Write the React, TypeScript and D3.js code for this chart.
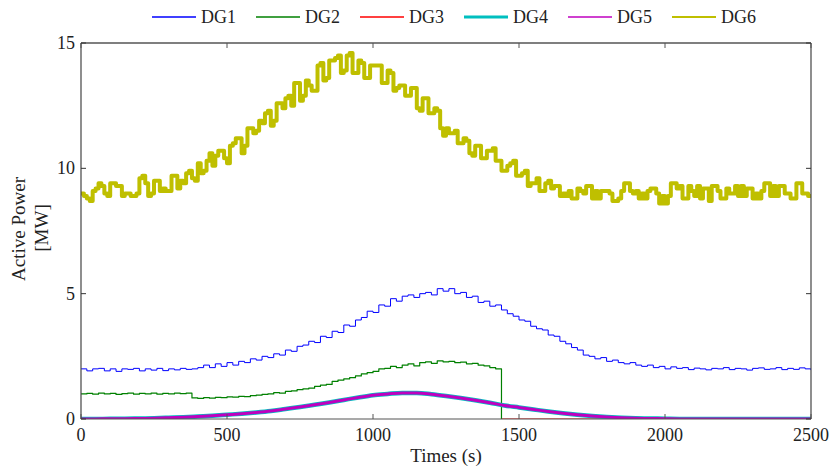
import React from "react";
import * as d3 from "d3";

// ---- Data ----
const seriesNames = ["DG1", "DG2", "DG3", "DG4", "DG5", "DG6"];
const seriesColors = ["#0000ff", "#008000", "#ff0000", "#00bfbf", "#bf00bf", "#bfbf00"];
const xTicks = [0, 500, 1000, 1500, 2000, 2500];
const yTicks = [0, 5, 10, 15];

// step-sampled series, every 20 s from 0 to 2500
const stepTimes = d3.range(0, 2501, 20);

const dg1 = [
  2.0, 1.92, 2.0, 2.02, 1.92, 2.0, 1.9, 2.0, 1.98, 2.02, 1.92, 2.0, 1.95, 2.02, 1.93, 2.0, 1.96, 2.02, 1.98, 2.0,
  2.05, 2.15, 2.05, 2.2, 2.1, 2.25, 2.15, 2.3, 2.25, 2.4, 2.35, 2.5, 2.45, 2.6, 2.55, 2.75, 2.7, 2.9, 2.95, 3.1,
  3.05, 3.3, 3.25, 3.5, 3.45, 3.75, 3.7, 3.95, 4.05, 4.3, 4.25, 4.55, 4.5, 4.8, 4.7, 4.9, 4.95, 4.85, 5.0, 5.05,
  4.95, 5.2, 5.1, 5.2, 5.0, 5.05, 4.85, 4.9, 4.65, 4.7, 4.5, 4.55, 4.35, 4.2, 4.1, 3.95, 3.9, 3.7, 3.6, 3.55,
  3.35, 3.3, 3.1, 3.0, 2.85, 2.75, 2.55, 2.5, 2.4, 2.45, 2.3, 2.35, 2.25, 2.2, 2.25, 2.15, 2.1, 2.15, 2.05, 2.1,
  2.0, 2.08, 2.02, 2.05, 1.97, 2.03, 2.0, 1.96, 2.02, 2.0, 2.05, 1.97, 2.02, 2.0, 1.95, 2.02, 2.04, 1.98, 2.0, 2.05,
  1.97, 2.02, 1.98, 2.04, 2.0, 1.95,
];

const dg2 = [
  1.0, 1.02, 0.99, 1.03, 1.0, 1.02, 0.98, 1.01, 1.03, 0.99, 1.02, 1.0, 1.03, 0.99, 1.02, 1.0, 1.03, 1.01, 1.03, 0.84,
  0.82, 0.85, 0.83, 0.86, 0.85, 0.88, 0.87, 0.9, 0.89, 0.93, 0.95, 0.98, 1.0, 1.05, 1.03, 1.1, 1.12, 1.17, 1.2, 1.23,
  1.3, 1.35, 1.38, 1.5, 1.55, 1.6, 1.65, 1.72, 1.8, 1.85, 1.9, 2.0, 2.02, 2.1, 2.05, 2.15, 2.2, 2.12, 2.25, 2.28,
  2.22, 2.32, 2.28, 2.3, 2.25, 2.27, 2.2, 2.22, 2.15, 2.12, 2.05, 2.0, 0, 0, 0, 0, 0, 0, 0, 0,
  0, 0, 0, 0, 0, 0, 0, 0, 0, 0, 0, 0, 0, 0, 0, 0, 0, 0, 0, 0,
  0, 0, 0, 0, 0, 0, 0, 0, 0, 0, 0, 0, 0, 0, 0, 0, 0, 0, 0, 0,
  0, 0, 0, 0, 0, 0,
];

// DG6 sampled every 10 s
const dg6Times = d3.range(0, 2501, 10);
const dg6 = [
  9.0, 8.9, 8.8, 8.7, 9.1, 9.2, 9.4, 9.3, 9.0, 8.9, 9.4, 9.4, 9.3, 9.3, 8.9, 9.0, 9.0, 8.9, 8.9, 9.0,
  9.6, 9.7, 9.4, 8.9, 9.0, 9.5, 9.5, 9.1, 9.2, 9.1, 9.1, 9.7, 9.7, 9.2, 9.5, 9.4, 9.8, 9.9, 9.6, 9.5,
  10.2, 9.8, 9.9, 10.3, 10.6, 10.1, 10.5, 10.7, 10.7, 10.4, 10.2, 10.9, 11.0, 11.2, 11.2, 10.6, 10.9, 11.6, 11.6, 11.4,
  11.5, 11.9, 11.8, 12.2, 12.3, 11.7, 11.9, 12.6, 12.6, 12.4, 12.8, 12.9, 12.5, 13.4, 13.4, 12.7, 12.9, 13.5, 13.3, 13.1,
  13.1, 14.1, 14.2, 13.5, 13.6, 14.3, 14.3, 14.4, 14.5, 13.8, 13.9, 14.5, 14.6, 13.8, 13.8, 14.3, 14.2, 13.6, 13.6, 14.1,
  14.1, 14.1, 14.1, 13.4, 13.4, 13.9, 13.8, 13.1, 13.2, 13.3, 13.3, 12.9, 12.9, 13.2, 13.2, 12.4, 12.3, 12.8, 12.8, 12.2,
  12.2, 12.4, 12.3, 11.6, 11.3, 11.6, 11.4, 11.4, 11.5, 11.0, 11.0, 11.2, 11.1, 10.6, 10.5, 10.9, 10.9, 10.4, 10.4, 10.7,
  10.7, 10.8, 10.3, 10.3, 9.9, 9.9, 10.1, 10.2, 10.3, 9.7, 9.7, 9.8, 9.9, 9.3, 9.4, 9.4, 9.6, 9.1, 9.1, 9.4,
  9.5, 9.2, 9.3, 9.3, 8.9, 9.0, 8.9, 9.1, 8.8, 8.8, 9.2, 9.1, 9.0, 9.3, 9.3, 8.8, 9.1, 8.8, 9.1, 9.1,
  9.1, 9.0, 8.7, 8.7, 8.8, 9.1, 9.4, 9.4, 9.1, 9.0, 9.1, 8.8, 9.0, 8.8, 9.1, 9.2, 9.2, 9.0, 8.6, 8.9,
  8.6, 8.9, 9.4, 9.4, 9.2, 9.3, 8.8, 8.8, 9.3, 9.1, 8.9, 9.3, 8.8, 9.2, 9.2, 8.7, 9.3, 9.3, 9.1, 8.8,
  8.8, 9.2, 9.0, 9.0, 9.3, 8.9, 9.3, 8.9, 9.2, 9.2, 8.8, 9.0, 8.8, 9.1, 9.4, 9.4, 8.9, 9.3, 8.9, 9.3,
  9.3, 9.0, 9.0, 8.8, 8.8, 9.4, 9.4, 9.0, 9.0, 8.9, 8.9,
];

// smooth series, every 50 s
const smoothTimes = d3.range(0, 2501, 50);
const dg4 = [
  0.0, 0.0, 0.01, 0.01, 0.02, 0.03, 0.05, 0.07, 0.1, 0.13, 0.17, 0.21, 0.26, 0.32, 0.4, 0.48, 0.57, 0.66, 0.76, 0.86,
  0.95, 1.0, 1.04, 1.04, 0.99, 0.92, 0.84, 0.75, 0.65, 0.54, 0.46, 0.38, 0.3, 0.23, 0.17, 0.12, 0.08, 0.05, 0.03, 0.02,
  0.01, 0, 0, 0, 0, 0, 0, 0, 0, 0, 0,
];
const dg5 = [
  0.0, 0.0, 0.01, 0.01, 0.02, 0.03, 0.05, 0.07, 0.1, 0.13, 0.17, 0.21, 0.26, 0.32, 0.4, 0.48, 0.57, 0.66, 0.76, 0.86,
  0.95, 1.0, 1.04, 1.04, 0.99, 0.92, 0.84, 0.75, 0.65, 0.54, 0.46, 0.38, 0.3, 0.23, 0.17, 0.12, 0.08, 0.05, 0.03, 0.02,
  0.01, 0, 0, 0, 0, 0, 0, 0, 0, 0, 0,
];
const dg3Times = [
  0, 50, 100, 150, 200, 250, 300, 350, 400, 450, 500, 550, 600, 650, 700, 750, 800, 850, 900, 950,
  1000, 1050, 1100, 1150, 1200, 1250, 1300, 1350, 1400, 1440, 1440, 2500,
];
const dg3 = [
  0.0, 0.0, 0.01, 0.01, 0.02, 0.03, 0.05, 0.07, 0.1, 0.13, 0.17, 0.21, 0.26, 0.32, 0.4, 0.48, 0.57, 0.66, 0.76, 0.86,
  0.95, 1.0, 1.04, 1.04, 0.99, 0.92, 0.84, 0.75, 0.65, 0.57, 0.0, 0.0,
];

const W = 829;
const H = 469;
const M = { left: 81, right: 18, top: 43, bottom: 50 };
const FONT = "'Liberation Serif', 'Times New Roman', serif";

export default function App() {
  const x = d3.scaleLinear().domain([0, 2500]).range([M.left, W - M.right]);
  const y = d3.scaleLinear().domain([0, 15]).range([H - M.bottom, M.top]);

  const stepLine = d3
    .line<[number, number]>()
    .x((d) => x(d[0]))
    .y((d) => y(d[1]))
    .curve(d3.curveStepAfter);
  const smoothLine = d3
    .line<[number, number]>()
    .x((d) => x(d[0]))
    .y((d) => y(d[1]))
    .curve(d3.curveMonotoneX);
  const linLine = d3
    .line<[number, number]>()
    .x((d) => x(d[0]))
    .y((d) => y(d[1]));

  const zip = (ts: number[], vs: number[]) => ts.map((t, i) => [t, vs[i]] as [number, number]);

  // DG2 drawn only up to its drop to zero (the zero tail lies under DG3's red line)
  const dg2Pts = zip(stepTimes, dg2);
  let lastNZ = 0;
  dg2.forEach((v, i) => {
    if (v !== 0) lastNZ = i;
  });
  const dg2Visible = dg2Pts.slice(0, lastNZ + 2);

  const paths = [
    { key: "DG1", d: stepLine(zip(stepTimes, dg1)), c: seriesColors[0], w: 1 },
    { key: "DG3", d: linLine(zip(dg3Times, dg3)), c: seriesColors[2], w: 1 },
    { key: "DG2", d: stepLine(dg2Visible), c: seriesColors[1], w: 1.2 },
    { key: "DG4", d: smoothLine(zip(smoothTimes, dg4)), c: seriesColors[3], w: 4.5 },
    { key: "DG5", d: smoothLine(zip(smoothTimes, dg5)), c: seriesColors[4], w: 3 },
    { key: "DG6", d: stepLine(zip(dg6Times, dg6)), c: seriesColors[5], w: 4 },
  ];

  const x0 = x(0), x1 = x(2500), y0 = y(0), y1 = y(15);
  const legendX0 = 152;
  const legendStep = 104;

  return (
    <svg
      width={W}
      height={H}
      style={{ position: "absolute", left: 0, top: 0, background: "#fff" }}
      fontFamily={FONT}
    >
      <defs>
        <clipPath id="plotclip">
          <rect x={x0} y={y1 - 5} width={x1 - x0} height={y0 - y1 + 5} />
        </clipPath>
      </defs>
      <rect x={0} y={0} width={W} height={H} fill="#fff" />

      <g clipPath="url(#plotclip)" fill="none" strokeLinejoin="round">
        {paths.map((s) => (
          <path key={s.key} d={s.d || ""} stroke={s.c} strokeWidth={s.w} />
        ))}
      </g>

      {/* axes box */}
      <line x1={x0} y1={y1} x2={x1} y2={y1} stroke="#000" strokeWidth={1.2} />
      <line x1={x1} y1={y1} x2={x1} y2={y0} stroke="#444" strokeWidth={1.2} />
      <line x1={x0} y1={y0} x2={x1} y2={y0} stroke="#555" strokeWidth={1.2} />
      <line x1={x0} y1={y1} x2={x0} y2={y0} stroke="#444" strokeWidth={1.2} />

      {/* x ticks */}
      {xTicks.map((t) => (
        <g key={"xt" + t}>
          <line x1={x(t)} x2={x(t)} y1={y0} y2={y0 - 5} stroke="#555" />
          <line x1={x(t)} x2={x(t)} y1={y1} y2={y1 + 5} stroke="#555" />
          <text x={x(t)} y={y0 + 22} textAnchor="middle" fontSize={18} fill="#222">
            {t}
          </text>
        </g>
      ))}
      {/* y ticks */}
      {yTicks.map((t) => (
        <g key={"yt" + t}>
          <line x1={x0} x2={x0 + 5} y1={y(t)} y2={y(t)} stroke="#333" />
          <line x1={x1} x2={x1 - 5} y1={y(t)} y2={y(t)} stroke="#333" />
          <text x={x0 - 6} y={y(t) + 6} textAnchor="end" fontSize={18} fill="#222">
            {t}
          </text>
        </g>
      ))}

      {/* axis labels */}
      <text x={(x0 + x1) / 2} y={462} textAnchor="middle" fontSize={19} fill="#222">
        Times (s)
      </text>
      <text transform={`translate(25,229) rotate(-90)`} textAnchor="middle" fontSize={19} fill="#222">
        Active Power
      </text>
      <text transform={`translate(48,228) rotate(-90)`} textAnchor="middle" fontSize={19} fill="#222">
        [MW]
      </text>

      {/* legend */}
      {seriesNames.map((n, i) => {
        const lx = legendX0 + i * legendStep;
        return (
          <g key={"lg" + n}>
            <line
              x1={lx}
              x2={lx + 44}
              y1={17}
              y2={17}
              stroke={seriesColors[i]}
              strokeWidth={i === 3 ? 3 : i === 5 ? 2 : 1.5}
            />
            <text x={lx + 49} y={23} fontSize={18} fill="#222">
              {n}
            </text>
          </g>
        );
      })}
    </svg>
  );
}
